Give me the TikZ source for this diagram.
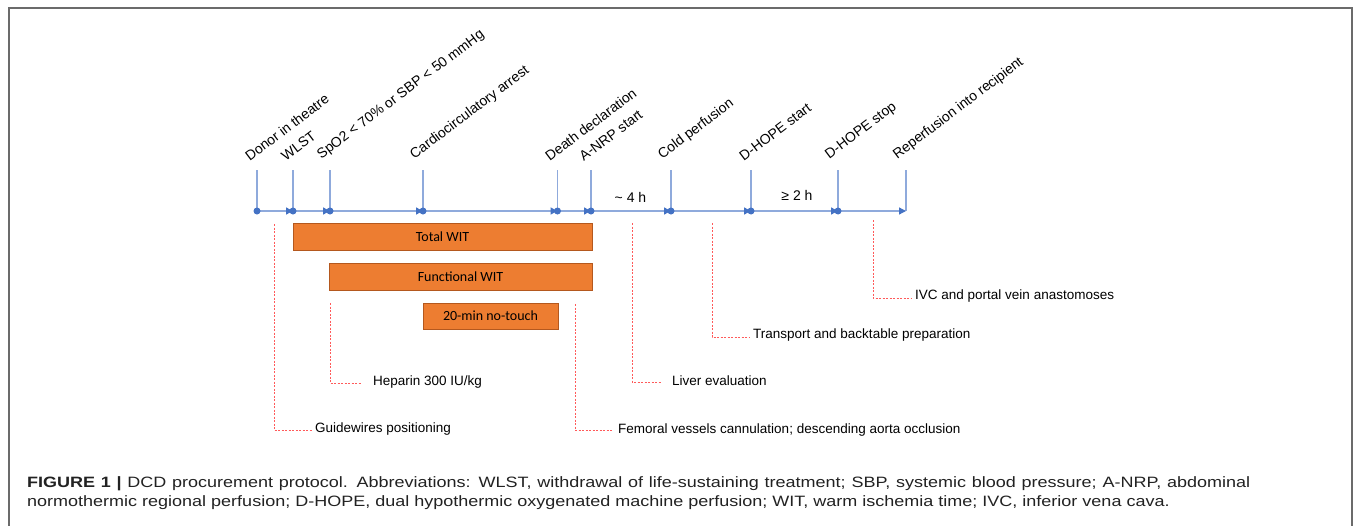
\documentclass[tikz,border=0pt]{standalone}
\usepackage{fontspec}
\setmainfont{Liberation Sans}
\newfontfamily\boxfont{Carlito}
\newfontfamily\capfam[FakeStretch=1.2]{Liberation Sans}
\usetikzlibrary{arrows.meta}
\definecolor{tlc}{HTML}{8FAADC}
\definecolor{dotc}{HTML}{4472C4}
\definecolor{orng}{HTML}{ED7D31}
\definecolor{orngd}{HTML}{B4581E}
\definecolor{redd}{HTML}{FF5A5A}
\definecolor{framec}{HTML}{6B6B6B}
\definecolor{captc}{HTML}{222222}
\newcommand{\capone}{\textbf{FIGURE 1 |} DCD procurement protocol. Abbreviations: WLST, withdrawal of life-sustaining treatment; SBP, systemic blood pressure; A-NRP, abdominal}
\newcommand{\captwo}{normothermic regional perfusion; D-HOPE, dual hypothermic oxygenated machine perfusion; WIT, warm ischemia time; IVC, inferior vena cava.}
\begin{document}
\begin{tikzpicture}[x=1pt,y=-1pt,
  ticksty/.style={draw=tlc, line width=1.2pt},
  segarrow/.style={draw=tlc, line width=1.3pt, -{Triangle[length=7pt,width=7pt,color=dotc]}},
  dotsty/.style={circle, fill=dotc, inner sep=0pt, minimum size=7pt},
  evlabel/.style={rotate=37, anchor=south west, inner sep=0pt, font=\fontsize{14}{16}\selectfont},
  durlabel/.style={inner sep=0pt, font=\fontsize{14}{16}\selectfont},
  wit/.style={fill=orng, draw=orngd, line width=0.6pt, inner sep=0pt, font=\boxfont\fontsize{14}{16}\selectfont},
  guide/.style={draw=redd, line width=0.8pt, dash pattern=on 2pt off 1.5pt},
  note/.style={anchor=west, inner sep=0pt, font=\fontsize{13.5}{16}\selectfont},
  capnode/.style={anchor=base west, inner sep=0pt, text=captc, font=\capfam\fontsize{15}{19}\selectfont}
]
\useasboundingbox (0,0) rectangle (1355,525);
\fill[white] (0,0) rectangle (1355,525);
% frame
\draw[framec, line width=1.5pt] (9,526) -- (9,8) -- (1352,8) -- (1352,526);

% timeline points
\foreach \n/\x in {1/257,2/293,3/330,4/423,5/557.5,6/591,7/671,8/751,9/838,10/906}{
  \coordinate (t\n) at (\x,211);
  \coordinate (k\n) at (\x,170);
}
% ticks
\foreach \n in {1,...,10}{ \draw[ticksty] (k\n) -- (t\n); }
% segments
\foreach \a/\b in {1/2,2/3,3/4,4/5,5/6,6/7,7/8,8/9,9/10}{
  \draw[segarrow] (t\a) -- (t\b);
}
% dots
\foreach \n in {1,...,9}{ \node[dotsty] (d\n) at (t\n) {}; }

% event labels
\node[evlabel] (l1) at (250,162) {Donor in theatre};
\node[evlabel] (l2) at (286,162) {WLST};
\node[evlabel] (l3) at (323,162) {SpO2 < 70\% or SBP < 50 mmHg};
\node[evlabel] (l4) at (416,162) {Cardiocirculatory arrest};
\node[evlabel] (l5) at (550,162) {Death declaration};
\node[evlabel] (l6) at (584,162) {A-NRP start};
\node[evlabel] (l7) at (664,162) {Cold perfusion};
\node[evlabel] (l8) at (744,162) {D-HOPE start};
\node[evlabel] (l9) at (831,162) {D-HOPE stop};
\node[evlabel] (l10) at (899,162) {Reperfusion into recipient};

% durations
\node[durlabel] (dur1) at (630.5,197.5) {\textasciitilde\ 4 h};
\node[durlabel] (dur2) at (797,195.5) {≥ 2 h};

% WIT boxes
\node[wit, minimum width=299pt, minimum height=27pt] (total) at (442.5,236.5) {Total WIT};
\node[wit, minimum width=263pt, minimum height=27pt] (func) at (460.5,276.5) {Functional WIT};
\node[wit, minimum width=135pt, minimum height=26pt] (notouch) at (490.5,316) {20-min no-touch};

% guide connectors and notes
\coordinate (g1a) at (274,224); \coordinate (g1b) at (312,430);
\node[note] (gw) at (315,429) {Guidewires positioning};
\draw[guide] (g1a) |- (g1b);

\coordinate (g2a) at (330,303); \coordinate (g2b) at (362,383);
\node[note] (hep) at (373,382) {Heparin 300 IU/kg};
\draw[guide] (g2a) |- (g2b);

\coordinate (g3a) at (575,304); \coordinate (g3b) at (613,430);
\node[note] (fem) at (618,430) {Femoral vessels cannulation; descending aorta occlusion};
\draw[guide] (g3a) |- (g3b);

\coordinate (g4a) at (632,223); \coordinate (g4b) at (661,382);
\node[note] (liv) at (672,381) {Liver evaluation};
\draw[guide] (g4a) |- (g4b);

\coordinate (g5a) at (712,223); \coordinate (g5b) at (749,337);
\node[note] (trn) at (753,335) {Transport and backtable preparation};
\draw[guide] (g5a) |- (g5b);

\coordinate (g6a) at (873,220); \coordinate (g6b) at (911,298);
\node[note] (ivc) at (915,296) {IVC and portal vein anastomoses};
\draw[guide] (g6a) |- (g6b);

% caption
\node[capnode] (cap1) at (27,487) {\hbox to 1223pt{\capone}};
\node[capnode] (cap2) at (27,506) {\captwo};
\end{tikzpicture}
\end{document}
